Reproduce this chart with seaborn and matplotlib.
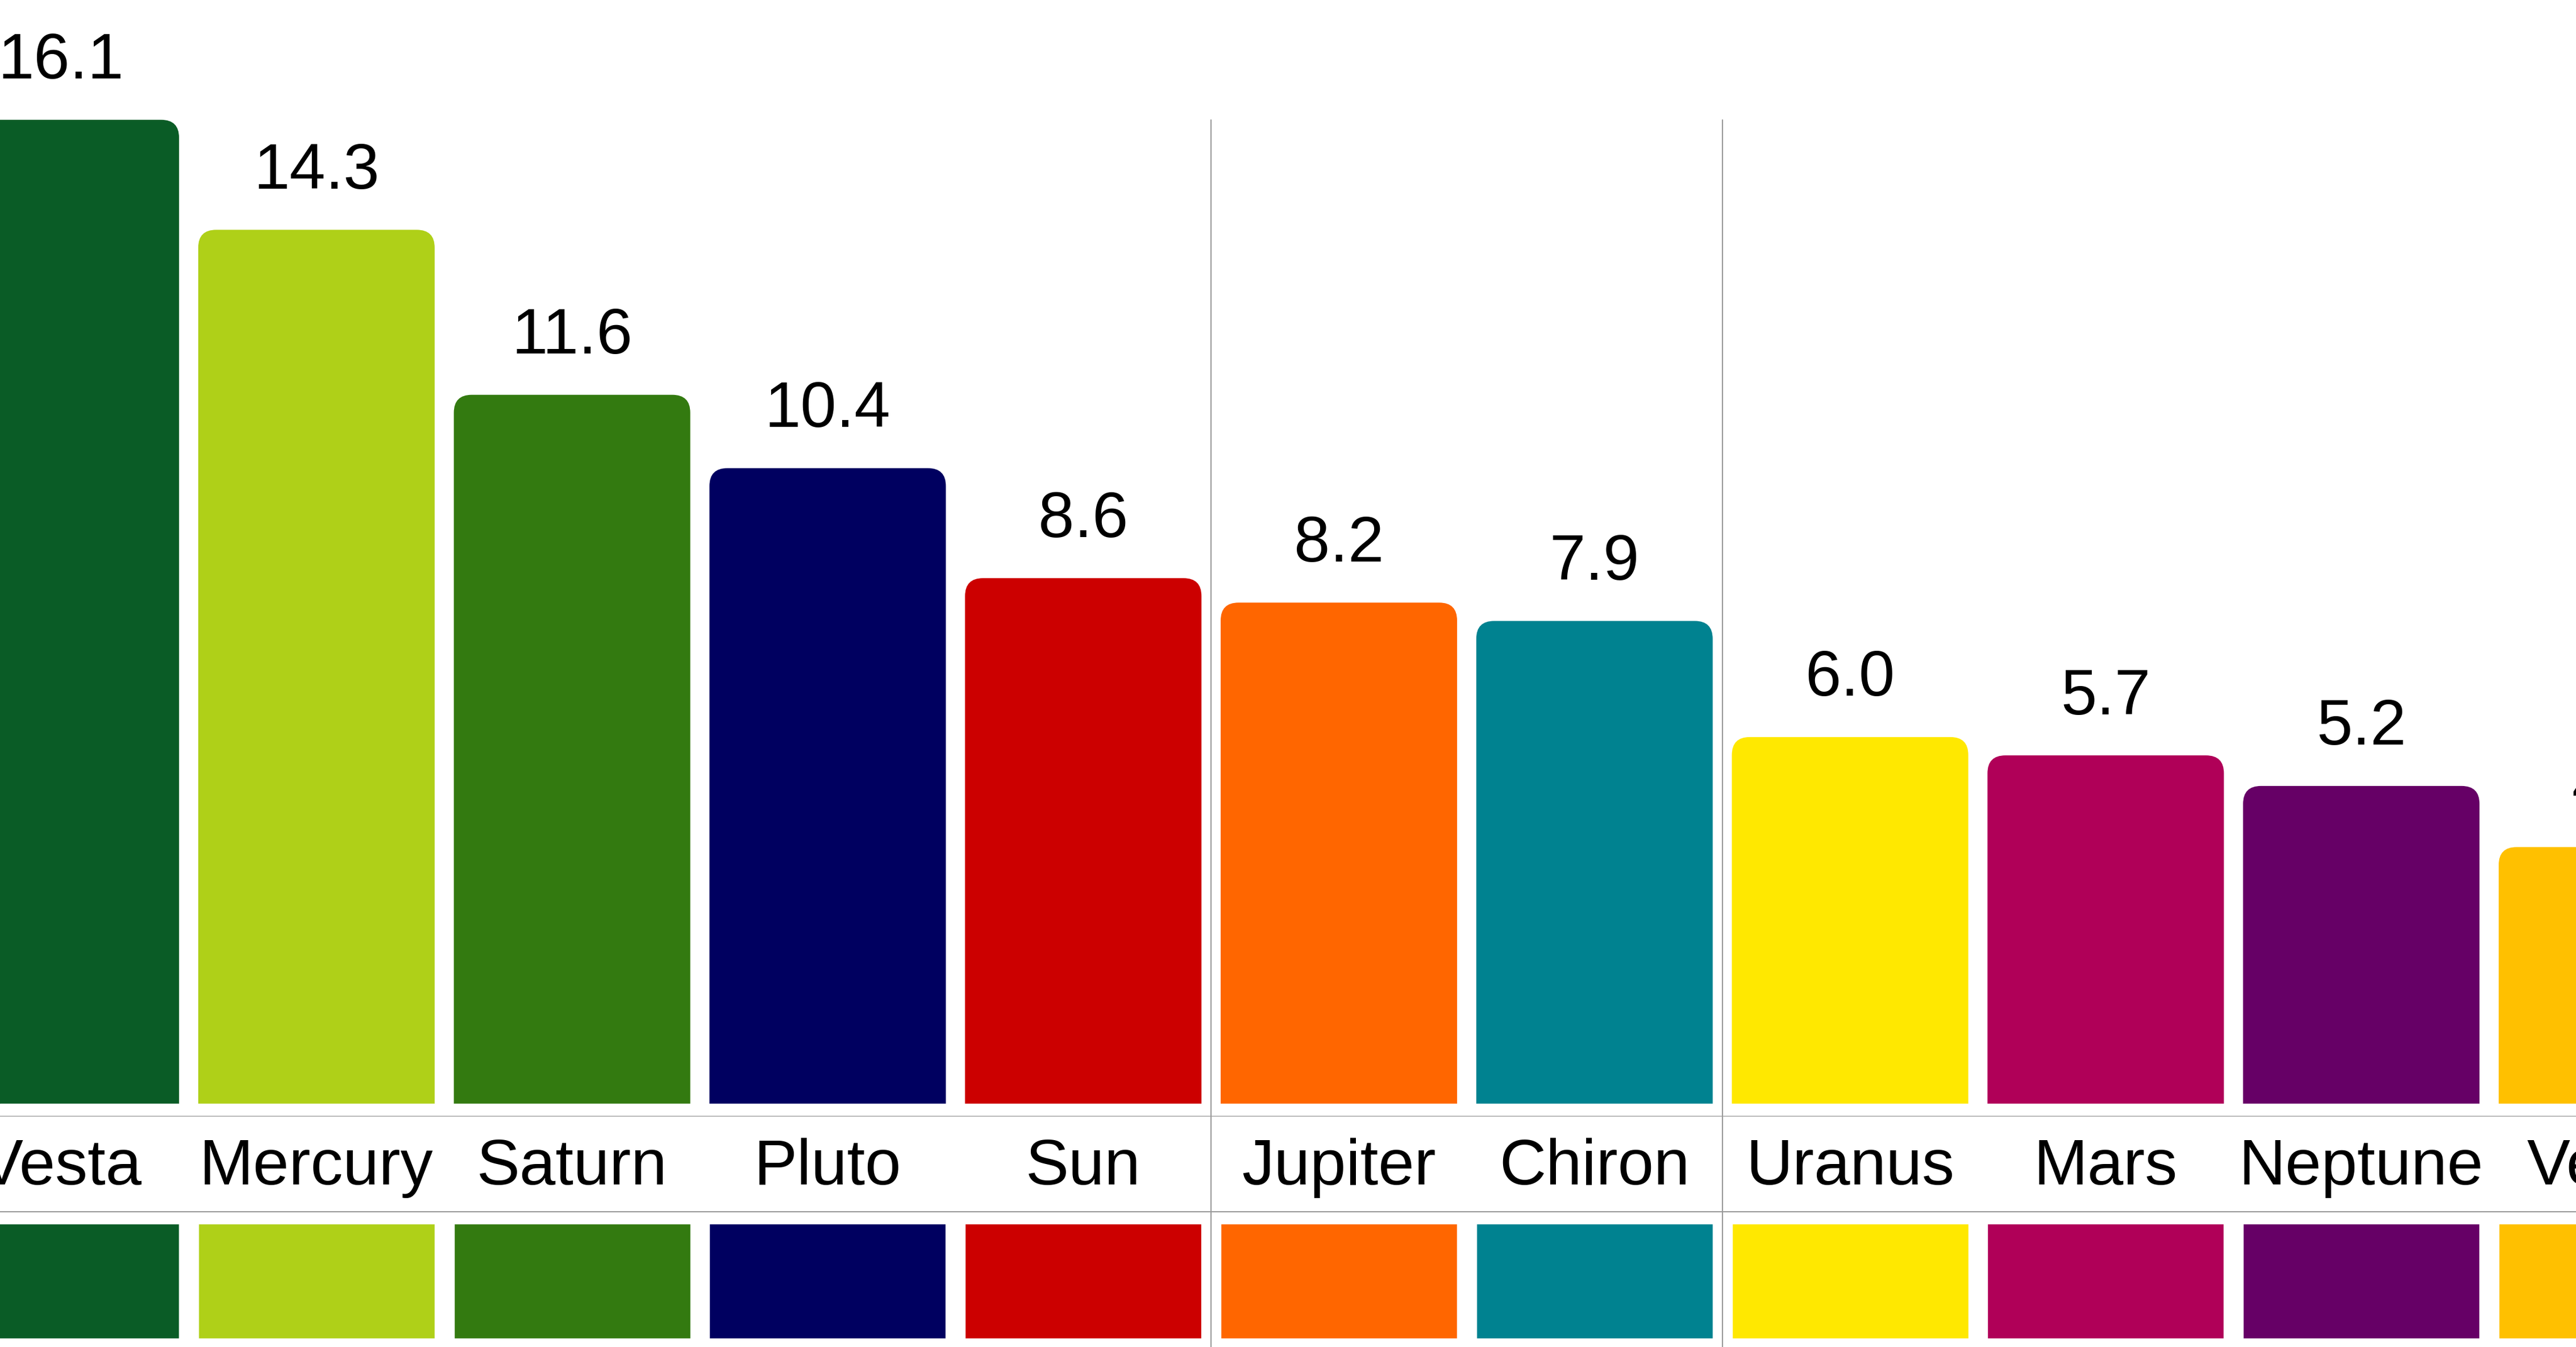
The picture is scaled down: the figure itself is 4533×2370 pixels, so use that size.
import matplotlib
matplotlib.use("Agg")
import matplotlib.pyplot as plt
import seaborn as sns
import pandas as pd
from matplotlib.patches import FancyBboxPatch

bodies = ["Vesta", "Mercury", "Saturn", "Pluto", "Sun", "Jupiter", "Chiron",
          "Uranus", "Mars", "Neptune", "Venus"]
values = [16.1, 14.3, 11.6, 10.4, 8.6, 8.2, 7.9, 6.0, 5.7, 5.2, 4.2]
colors = ["#0a5c26", "#afd018", "#337a10", "#000060", "#cc0000", "#ff6600",
          "#008290", "#ffe800", "#b00058", "#660066", "#ffc000"]
group_breaks = [4.5, 6.5]

df = pd.DataFrame({"body": bodies, "value": values})

sns.set_style("white")
plt.rcParams["font.family"] = ["Liberation Sans", "DejaVu Sans"]
plt.rcParams["text.color"] = "black"

fig = plt.figure(figsize=(45.33, 23.70), dpi=100)
ax = fig.add_axes([0, 0, 1, 1])

sns.barplot(data=df, x="body", y="value", hue="body", palette=colors,
            legend=False, width=0.925, ax=ax, saturation=1)

xlim = (-0.238, 9.84)
ylim = (-3.98, 18.06)
ax.set_xlim(*xlim)
ax.set_ylim(*ylim)
aspect = (ylim[1] - ylim[0]) / 820 / ((xlim[1] - xlim[0]) / 1568)

for p, c in zip(list(ax.patches), colors):
    x0, w, h = p.get_x(), p.get_width(), p.get_height()
    p.set_visible(False)
    fb = FancyBboxPatch((x0, -1.0), w, h + 1.0,
                        boxstyle="round,pad=0,rounding_size=0.07",
                        mutation_aspect=aspect, facecolor=c, edgecolor="none")
    ax.add_patch(fb)
    ax.text(x0 + w / 2, h + 0.45, f"{h:.1f}", ha="center", va="bottom",
            fontsize=82, color="black")

# cover bottom of rounded bars below baseline
ax.axhspan(-1.05, 0, color="white", zorder=3)

xs = list(range(len(bodies)))
ax.bar(xs, [-1.88] * len(xs), width=0.925, bottom=-1.96, color=colors, zorder=4)
for x, name in zip(xs, bodies):
    ax.text(x, -1.05, name, ha="center", va="center", fontsize=82,
            color="black", zorder=5)

ax.axhline(-0.2, color="#bbbbbb", lw=1.5, zorder=5)
ax.axhline(-1.77, color="#999999", lw=1.5, zorder=5)
for b in group_breaks:
    ax.plot([b, b], [ylim[0], 16.1], color="#999999", lw=1.5, zorder=5)

ax.set_axis_off()
fig.savefig("out.png", dpi=100, facecolor="white")
